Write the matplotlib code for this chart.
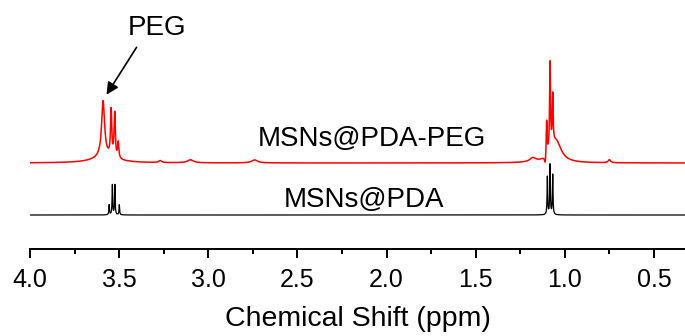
# 1H NMR spectra of MSNs@PDA and MSNs@PDA-PEG, stacked with an offset

import numpy as np
import matplotlib.pyplot as plt

plt.rcParams['font.family'] = ['Liberation Sans', 'DejaVu Sans']

# peak tables: position (ppm), height above baseline, half width (ppm)
peg_pos = [3.590, 3.580, 3.545, 3.525, 3.505, 3.270, 3.100, 2.740, 1.180,
           1.110, 1.102, 1.083, 1.068, 1.050, 0.750]
peg_height = [56, 6, 46, 44, 16, 2, 3, 3, 4, -10, 36, 88, 50, 22, 3]
peg_width = [0.010, 0.080, 0.004, 0.004, 0.004, 0.010, 0.020, 0.020, 0.020,
             0.005, 0.003, 0.003, 0.003, 0.035, 0.008]
peg_offset = 86

pda_pos = [3.556, 3.538, 3.524, 3.499, 1.098, 1.083, 1.068]
pda_height = [10, 30, 30, 10, 38, 50, 40]
pda_width = [0.002, 0.002, 0.002, 0.002, 0.002, 0.002, 0.002]
pda_offset = 34

ticks = [4.0, 3.5, 3.0, 2.5, 2.0, 1.5, 1.0, 0.5]


def spectrum(ppm, pos, height, width, offset):
    # sum of Lorentzian lines on a flat baseline
    y = np.full_like(ppm, offset, dtype=float)
    for p, h, w in zip(pos, height, width):
        y += h * w**2 / ((ppm - p)**2 + w**2)
    return y


ppm = np.linspace(4.0, 0.32, 12000)
y_peg = spectrum(ppm, peg_pos, peg_height, peg_width, peg_offset)
y_pda = spectrum(ppm, pda_pos, pda_height, pda_width, pda_offset)

fig = plt.figure(figsize=(6.85, 3.36), dpi=100)
ax = fig.add_axes([30 / 685, 87 / 336, 655 / 685, 249 / 336])

ax.plot(ppm, y_peg, color='#ff0000', lw=1.1)
ax.plot(ppm, y_pda, color='black', lw=0.9)

ax.set_xlim(4.0, 0.326)
ax.set_ylim(0, 249)

for side in ['top', 'left', 'right']:
    ax.spines[side].set_visible(False)
ax.spines['bottom'].set_linewidth(1.4)
ax.set_yticks([])
ax.set_xticks(ticks)
ax.set_xticks(np.arange(4.0, 0.3, -0.25), minor=True)
ax.set_xticklabels([f'{t:.1f}' for t in ticks])
ax.tick_params(axis='x', which='major', length=6.5, width=1.4,
               labelsize=18, pad=7.5)
ax.tick_params(axis='x', which='minor', length=3.6, width=1.4)
ax.set_xlabel('Chemical Shift (ppm)', fontsize=20.5, labelpad=10)

ax.text(2.084, 103, 'MSNs@PDA-PEG', fontsize=20, ha='center', va='baseline')
ax.text(2.129, 42, 'MSNs@PDA', fontsize=20, ha='center', va='baseline')
ax.text(3.287, 214, 'PEG', fontsize=20, ha='center', va='baseline')
ax.annotate('', xy=(3.579, 152), xytext=(3.394, 204),
            arrowprops=dict(arrowstyle='-|>', color='black', lw=1.2,
                            mutation_scale=18))

fig.savefig('out.png', dpi=100)
